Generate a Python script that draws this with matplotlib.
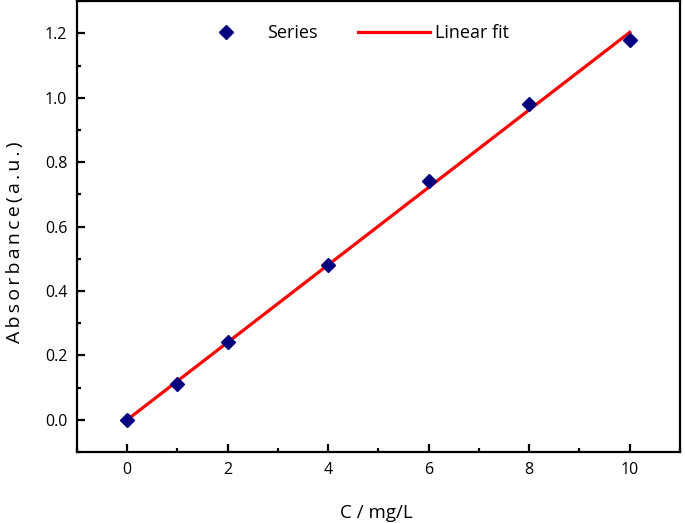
import numpy as np
import matplotlib
matplotlib.use('Agg')
import matplotlib.pyplot as plt
from matplotlib.ticker import MultipleLocator

plt.rcParams['font.family'] = ['Open Sans', 'DejaVu Sans']

# 浓度与吸光度数据
conc = [0, 1, 2, 4, 6, 8, 10]
absorb = [0.0, 0.11, 0.24, 0.48, 0.74, 0.98, 1.18]

# 线性拟合
k, b = np.polyfit(conc, absorb, 1)
fit_x = np.array([min(conc), max(conc)])
fit_y = k * fit_x + b

fig = plt.figure(figsize=(6.85, 5.23), dpi=100)
ax = fig.add_axes([0.1124, 0.1358, 0.8803, 0.862])

ax.plot(conc, absorb, linestyle='none', marker='D', markersize=7,
        color='#00007f', label='Series', zorder=3)
ax.plot(fit_x, fit_y, color='#ff0000', linewidth=2.3, label='Linear fit', zorder=2)

ax.set_xlim(-1, 11)
ax.set_ylim(-0.1, 1.3)
ax.xaxis.set_minor_locator(MultipleLocator(1))
ax.yaxis.set_minor_locator(MultipleLocator(0.1))
ax.set_xticks([0, 2, 4, 6, 8, 10])
ax.set_yticks([0.0, 0.2, 0.4, 0.6, 0.8, 1.0, 1.2])
ax.yaxis.set_major_formatter(plt.FormatStrFormatter('%.1f'))

ax.tick_params(which='both', direction='in', width=1.6, labelsize=11.5, top=False, right=False)
ax.tick_params(which='major', length=6, pad=7)
ax.tick_params(which='minor', length=3)
for s in ax.spines.values():
    s.set_linewidth(1.6)

# 坐标轴标题，y 轴标题字间距较宽
ax.set_xlabel('C / mg/L', fontsize=13.5)
ax.xaxis.set_label_coords(0.497, -0.115)
ax.set_ylabel('\u2009'.join('Absorbance(a.u.)'), fontsize=14)
ax.yaxis.set_label_coords(-0.088, 0.465)

ax.legend(loc='center left', ncol=2, frameon=False, fontsize=13,
          bbox_to_anchor=(0.187, 0.929), handlelength=4.0, handletextpad=0.3,
          columnspacing=2.2, borderpad=0, borderaxespad=0)

fig.savefig('out.png', dpi=100)
